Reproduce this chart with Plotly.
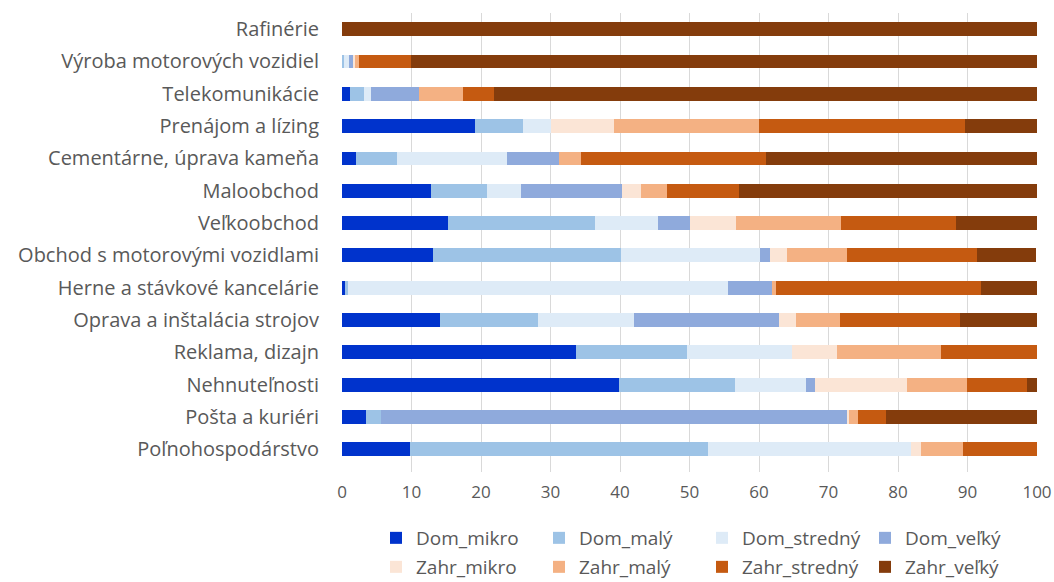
import plotly.graph_objects as go

categories = ["Rafinérie", "Výroba motorových vozidiel", "Telekomunikácie", "Prenájom a lízing",
              "Cementárne, úprava kameňa", "Maloobchod", "Veľkoobchod",
              "Obchod s motorovými vozidlami", "Herne a stávkové kancelárie",
              "Oprava a inštalácia strojov", "Reklama, dizajn", "Nehnuteľnosti",
              "Pošta a kuriéri", "Poľnohospodárstvo"]

dom_mikro   = [0, 0.0, 1.1, 19.2, 2.0, 12.8, 15.3, 13.1, 0.4, 14.1, 33.7, 39.9, 3.4, 9.8]
dom_maly    = [0, 0.3, 2.0, 6.9, 5.9, 8.1, 21.1, 27.0, 0.4, 14.1, 16.0, 16.7, 2.2, 42.8]
dom_stredny = [0, 0.7, 1.1, 4.0, 15.8, 4.9, 9.0, 20.0, 54.7, 13.8, 15.0, 10.1, 0.0, 29.2]
dom_velky   = [0, 0.6, 6.9, 0.0, 7.5, 14.5, 4.6, 1.5, 6.3, 20.9, 0.0, 1.3, 67.0, 0.0]
zahr_mikro  = [0, 0.3, 0.0, 9.0, 0.0, 2.7, 6.7, 2.4, 0.0, 2.4, 6.5, 13.3, 0.4, 1.5]
zahr_maly   = [0, 0.5, 6.3, 20.9, 3.2, 3.7, 15.1, 8.7, 0.7, 6.4, 15.0, 8.6, 1.2, 6.1]
zahr_stredny= [0, 7.5, 4.4, 29.6, 26.6, 10.4, 16.6, 18.6, 29.4, 17.2, 13.8, 8.7, 4.1, 10.6]
zahr_velky  = [100, 90.1, 78.2, 10.4, 39.0, 42.9, 11.6, 8.6, 8.1, 11.1, 0.0, 1.4, 21.7, 0.0]

series_names = ["Dom_mikro", "Dom_malý", "Dom_stredný", "Dom_veľký",
                "Zahr_mikro", "Zahr_malý", "Zahr_stredný", "Zahr_veľký"]
series_values = [dom_mikro, dom_maly, dom_stredny, dom_velky,
                 zahr_mikro, zahr_maly, zahr_stredny, zahr_velky]
colors = ["#0033CC", "#9DC3E6", "#DEEBF7", "#8FAADC",
          "#FBE5D6", "#F4B183", "#C55A11", "#843C0C"]

FONT = "Open Sans"
GRAY = "#595959"
W, H = 1054, 582

fig = go.Figure()
for i, (name, vals, col) in enumerate(zip(series_names, series_values, colors)):
    fig.add_trace(go.Bar(
        y=categories, x=vals, name=name, orientation="h",
        marker=dict(color=col, line=dict(width=0)),
        legend="legend" if i < 4 else "legend2",
    ))

legend_common = dict(
    orientation="h", xref="container", yref="container",
    xanchor="left", yanchor="middle", x=376 / W,
    font=dict(family=FONT, size=19, color=GRAY),
    entrywidth=118, entrywidthmode="pixels", traceorder="normal",
    bgcolor="rgba(0,0,0,0)", itemclick=False,
)

fig.update_layout(
    template="none",
    barmode="stack",
    bargap=0.57,
    width=W, height=H,
    margin=dict(l=342, r=17, t=13, b=110),
    plot_bgcolor="white", paper_bgcolor="white",
    font=dict(family=FONT, size=18, color=GRAY),
    showlegend=True,
    legend=dict(**legend_common, y=1 - 538 / H),
    legend2=dict(**legend_common, y=1 - 567 / H),
    xaxis=dict(range=[0, 100], dtick=10, showgrid=True, gridcolor="#D9D9D9",
               gridwidth=1, zeroline=False, showline=False, ticks="",
               automargin=False, ticklabelstandoff=8,
               tickfont=dict(family=FONT, size=17, color=GRAY), fixedrange=True),
    yaxis=dict(categoryorder="array", categoryarray=categories,
               range=[13.7, -0.5], showgrid=False, zeroline=False, ticks="",
               automargin=False, ticklabelstandoff=22,
               tickfont=dict(family=FONT, size=20, color=GRAY)),
)

fig.write_html("out.html",
               config={"displayModeBar": False},
               post_script="document.body.style.margin='0';document.body.style.overflow='hidden';")
